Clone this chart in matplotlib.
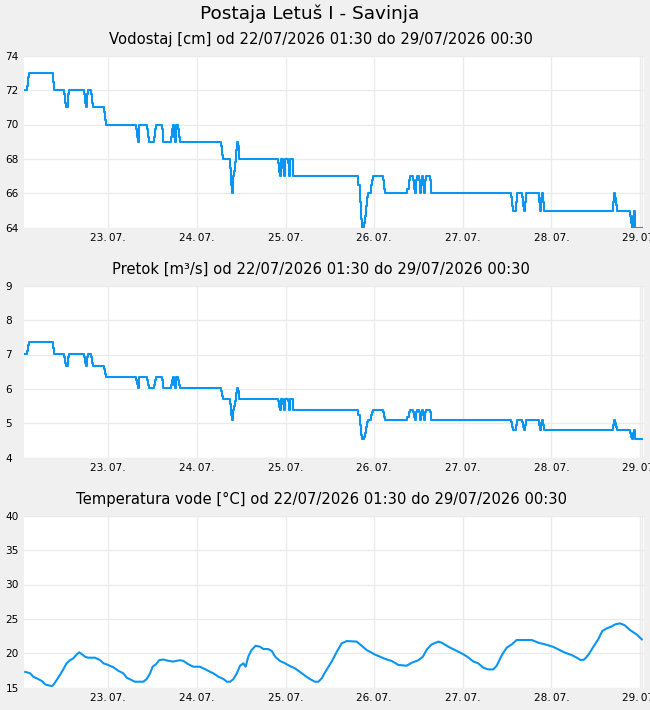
import numpy as np
import matplotlib
matplotlib.use("Agg")
import matplotlib.pyplot as plt
import matplotlib.dates as mdates

plt.rcParams['font.family'] = ['DejaVu Sans']

# ---------------- data ----------------
start = np.datetime64('2026-07-22T01:30')

# change points (hours after start) for water level / discharge
level_hours = [0.0, 0.57, 0.84, 1.11, 7.61, 7.88,
               10.59, 10.86, 11.13, 11.51, 11.67, 11.94,
               16.01, 16.28, 16.55, 16.66, 16.82, 17.09,
               17.82, 18.09, 18.36,
               21.42, 21.70, 21.97,
               30.09, 30.36, 30.55, 30.74, 30.90,
               33.07, 33.34, 33.61,
               34.97, 35.24, 35.51,
               37.13, 37.41,
               39.57, 39.84, 40.11, 40.38, 40.65, 40.93, 41.47, 41.74, 42.01,
               53.11, 53.39, 53.66,
               55.55, 55.82, 56.09, 56.28, 56.37, 56.64, 56.91, 57.18, 57.45, 57.64, 57.83, 57.99,
               68.55, 68.82, 69.10, 69.37, 69.75, 70.10, 70.37, 71.10, 71.37, 71.53, 71.80, 72.45, 72.62,
               90.22, 90.60, 90.87, 91.14, 91.68, 91.95, 92.22, 92.50, 92.77, 93.58, 93.85, 94.12,
               96.99, 97.26, 97.53,
               103.49, 103.87, 104.14, 105.11, 105.38, 105.65, 105.92, 106.12, 106.66, 107.01,
               107.28, 107.55, 107.74, 108.02, 108.29, 108.64, 109.72, 110.0,
               131.67, 131.94, 132.21, 132.86, 133.13,
               134.65, 134.92, 135.19, 135.46, 135.73,
               139.25, 139.52, 139.79, 140.06, 140.25, 140.52,
               159.29, 159.56, 159.83, 160.02, 160.21,
               163.73, 164.0, 164.27, 164.54, 164.81, 165.03, 165.24, 167.0]

level_cm = [72, 72.25, 72.75, 73, 72.5, 72,
            71.75, 71.25, 71.0, 71.25, 71.75, 72,
            71.75, 71.25, 71.0, 71.5, 71.75, 72,
            71.75, 71.25, 71,
            70.75, 70.25, 70,
            69.75, 69.3, 69.0, 69.75, 70,
            69.75, 69.25, 69,
            69.25, 69.75, 70,
            69.75, 69,
            69.25, 69.75, 70, 69.25, 69, 70, 69.75, 69.25, 69,
            68.75, 68.25, 68,
            67.5, 66.5, 66, 66.5, 67, 67.3, 67.8, 68.5, 69, 68.75, 68.3, 68,
            67.75, 67.25, 67, 68, 67.5, 67, 68, 67.75, 67.25, 67, 68, 67.25, 67,
            66.5, 65.5, 64.5, 64, 64.25, 64.7, 65.25, 65.8, 66, 66.5, 66.75, 67,
            66.75, 66.25, 66,
            66.25, 66.75, 67, 66.75, 66.25, 66, 66.75, 67, 66.75, 66,
            66.5, 67, 66.5, 66, 66.75, 67, 66.75, 66,
            65.8, 65.25, 65, 65.5, 66,
            65.8, 65.25, 65, 65.5, 66,
            65.5, 65, 65.75, 66, 65.5, 65,
            65.5, 66, 65.75, 65.3, 65,
            64.7, 64.25, 64, 64.7, 65, 64.7, 64, 64]

flow_m3s = [7.01, 7.10, 7.28, 7.37, 7.19, 7.01,
            6.92, 6.75, 6.66, 6.75, 6.92, 7.01,
            6.92, 6.75, 6.66, 6.84, 6.92, 7.01,
            6.92, 6.75, 6.66,
            6.58, 6.43, 6.35,
            6.27, 6.13, 6.03, 6.27, 6.35,
            6.27, 6.11, 6.03,
            6.11, 6.27, 6.35,
            6.27, 6.03,
            6.11, 6.27, 6.35, 6.11, 6.03, 6.35, 6.27, 6.11, 6.03,
            5.95, 5.80, 5.72,
            5.56, 5.25, 5.10, 5.25, 5.40, 5.50, 5.66, 5.88, 6.03, 5.95, 5.82, 5.72,
            5.64, 5.48, 5.40, 5.72, 5.56, 5.40, 5.72, 5.64, 5.48, 5.40, 5.72, 5.48, 5.40,
            5.25, 4.95, 4.67, 4.54, 4.61, 4.73, 4.88, 5.04, 5.10, 5.25, 5.33, 5.40,
            5.33, 5.18, 5.10,
            5.18, 5.33, 5.40, 5.33, 5.18, 5.10, 5.33, 5.40, 5.33, 5.10,
            5.25, 5.40, 5.25, 5.10, 5.33, 5.40, 5.33, 5.10,
            5.04, 4.88, 4.81, 4.95, 5.10,
            5.04, 4.88, 4.81, 4.95, 5.10,
            4.95, 4.81, 5.02, 5.10, 4.95, 4.81,
            4.95, 5.10, 5.02, 4.90, 4.81,
            4.73, 4.61, 4.54, 4.73, 4.81, 4.73, 4.54, 4.54]

temp_hours = [0, 1.3, 2.2, 3.5, 4.5, 5.4, 6.3, 7.2, 7.6, 8.5,
              9.4, 10.3, 11.2, 12.1, 13.0, 13.8, 14.6, 15.3, 16.2, 17.1,
              18.9, 20.3, 21.2, 22.5, 23.9, 25.2, 26.6, 27.5, 28.8, 29.7,
              32.0, 32.9, 33.8, 34.5, 35.4, 36.3, 37.4, 38.8, 40.1, 41.9,
              42.8, 44.2, 45.5, 47.3, 48.7, 50.1, 51.0, 52.3, 53.7, 54.6,
              55.5, 56.4, 57.3, 58.2, 59.1, 59.7, 60.4, 61.3, 62.4, 63.6,
              64.5, 65.8, 66.8, 67.7, 69.0, 70.4, 71.7, 73.1, 74.4, 75.8,
              77.1, 78.5, 79.4, 80.3, 81.2, 83.0, 84.4, 85.7, 87.1, 89.8,
              91.1, 92.5, 94.6, 96.1, 97.9, 99.3, 101.1, 103.3, 104.7, 106.5,
              107.7, 108.8, 110.1, 111.9, 112.8, 114.6, 116.4, 118.7, 120.0, 121.4,
              122.7, 124.1, 125.4, 126.8, 127.7, 129.1, 130.4, 131.8, 133.1, 137.2,
              139.0, 140.8, 142.9, 144.4, 146.2, 148.0, 149.4, 150.5, 151.4, 152.5,
              153.9, 155.2, 156.3, 157.5, 158.7, 159.8, 161.1, 162.3, 163.8, 165.6,
              167.0]
temp_c = [17.3, 17.1, 16.6, 16.26, 15.97, 15.48, 15.34, 15.24, 15.4, 16.1,
          16.84, 17.66, 18.54, 19.0, 19.26, 19.75, 20.14, 19.9, 19.5, 19.36,
          19.36, 19.0, 18.54, 18.3, 17.96, 17.47, 17.08, 16.45, 16.1, 15.87,
          15.87, 16.26, 17.08, 18.05, 18.4, 19.0, 19.1, 18.9, 18.8, 19.0,
          18.9, 18.4, 18.05, 18.05, 17.7, 17.3, 17.08, 16.6, 16.26, 15.87,
          15.87, 16.26, 17.08, 18.2, 18.54, 18.05, 19.5, 20.47, 21.1, 20.96,
          20.62, 20.62, 20.33, 19.5, 18.88, 18.54, 18.15, 17.8, 17.3, 16.74,
          16.26, 15.87, 15.87, 16.36, 17.23, 18.8, 20.23, 21.44, 21.78, 21.7,
          21.1, 20.47, 19.85, 19.5, 19.1, 18.88, 18.3, 18.2, 18.63, 19.0,
          19.5, 20.57, 21.3, 21.7, 21.54, 20.96, 20.47, 19.85, 19.4, 18.8,
          18.54, 17.9, 17.66, 17.66, 18.2, 19.75, 20.81, 21.3, 21.93, 21.93,
          21.54, 21.3, 20.96, 20.57, 20.09, 19.75, 19.36, 19.0, 19.1, 19.75,
          20.96, 22.03, 23.24, 23.62, 23.87, 24.2, 24.35, 24.1, 23.38, 22.75,
          22.03]

title = "Postaja Letuš I - Savinja"
subtitles = ["Vodostaj [cm] od 22/07/2026 01:30 do 29/07/2026 00:30",
             "Pretok [m³/s] od 22/07/2026 01:30 do 29/07/2026 00:30",
             "Temperatura vode [°C] od 22/07/2026 01:30 do 29/07/2026 00:30"]
y_ranges = [(64, 74, 2), (4, 9, 1), (15, 40, 5)]

# ---------------- drawing ----------------
def to_time(hours):
    return start + (np.array(hours) * 60).round().astype('timedelta64[m]')

W, H = 650, 710
fig = plt.figure(figsize=(W / 100, H / 100), dpi=100, facecolor='#f0f0f0')

line_col = '#0a96f0'
grid_col = '#ebebeb'
left, right = 24, 644
tops = [55.7, 285.7, 515.7]
ax_h = 172

t_level = to_time(level_hours)
t_temp = to_time(temp_hours)
x0 = start - np.timedelta64(20, 'm')
x1 = start + np.timedelta64(167 * 60 + 36, 'm')
data_end = start + np.timedelta64(167 * 60, 'm')

series = [(t_level, level_cm, 'steps-post'),
          (t_level, flow_m3s, 'steps-post'),
          (t_temp, temp_c, 'default')]

fig.text(0.476, 1 - 14 / H, title, ha='center', va='center', fontsize=13.3)

for i, (t, v, ds) in enumerate(series):
    top = tops[i]
    ax = fig.add_axes([left / W, 1 - (top + ax_h) / H, (right - left) / W, ax_h / H])
    ax.set_facecolor('white')
    ax.plot(t, v, color=line_col, lw=1.5, drawstyle=ds, zorder=3)
    lo, hi, step = y_ranges[i]
    ax.set_ylim(lo, hi)
    ax.set_yticks(np.arange(lo, hi + 0.001, step))
    ax.set_xlim(x0, x1)
    ax.xaxis.set_major_locator(mdates.DayLocator())
    ax.xaxis.set_major_formatter(mdates.DateFormatter('%d.\u2009%m.'))
    ax.grid(True, color=grid_col, lw=1.0, zorder=0)
    ax.axvline(data_end, color=grid_col, lw=1.0, zorder=0)
    for s in ax.spines.values():
        s.set_visible(False)
    ax.tick_params(axis='both', length=0, labelsize=7.6, colors='black')
    ax.tick_params(axis='x', pad=4)
    ax.tick_params(axis='y', pad=13.3)
    for lbl in ax.get_yticklabels():
        lbl.set_horizontalalignment('left')
    fig.text(0.494, 1 - (top - 16) / H, subtitles[i], ha='center', va='center', fontsize=10.6)

fig.savefig('out.png', dpi=100, facecolor=fig.get_facecolor())
